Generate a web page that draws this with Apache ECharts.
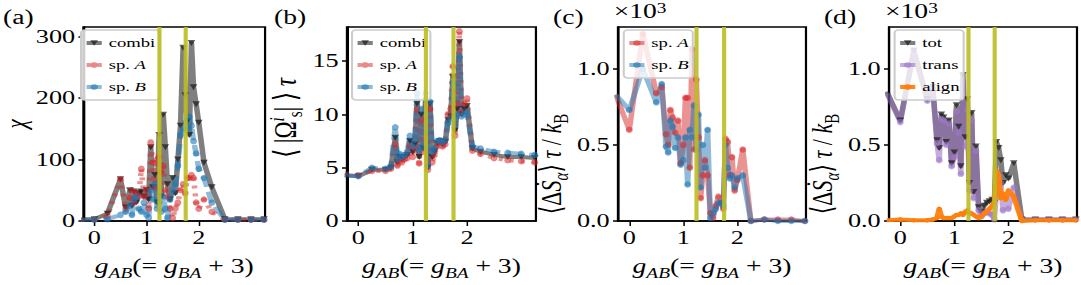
<!DOCTYPE html>
<html><head><meta charset="utf-8">
<script src="https://cdn.jsdelivr.net/npm/echarts@6/dist/echarts.min.js"></script>
<style>
html,body{margin:0;padding:0;overflow:hidden;background:#fff;}
#wrap{width:1081px;height:285px;overflow:hidden;}
#chart{width:783px;height:285px;transform:scaleX(1.38058);transform-origin:0 0;}
</style></head><body><div id="wrap"><div id="chart"></div></div>
<script>
// ---------- data ----------
const gAB = [-0.25,0,0.25,0.5,0.6,0.68,0.72,0.76,0.8,0.85,0.9,0.95,1.0,1.04,1.08,1.12,1.16,1.2,1.24,1.28,1.32,1.36,1.4,1.45,1.5,1.55,1.6,1.65,1.7,1.74,1.78,1.82,1.86,1.9,1.95,2.0,2.1,2.25,2.5,2.75,3.0,3.25];
// (a) chi
const chiCombi = [3,3,12,68,22,50,25,48,30,45,48,40,50,35,120,55,75,30,140,40,173,120,60,35,70,45,100,155,282,205,163,140,290,218,190,160,95,55,3,3,3,3];
const chiA = [2,2,8,68,20,38,50,30,45,40,85,40,50,20,128,95,55,100,105,80,90,50,40,20,5,20,30,50,60,45,70,70,75,70,30,20,35,15,2,2,2,2];
const chiB = [2,2,3,10,15,25,10,35,40,20,15,30,10,5,50,35,60,20,30,15,40,20,5,35,50,60,90,140,150,160,150,170,155,130,110,85,70,30,2,2,2,2];
// (b) <|Omega|> tau
const omCombi = [4.3,4.2,4.8,4.8,5.0,7.8,5.5,6.0,5.8,6.0,6.2,7.5,6.5,7.2,11.0,6.0,10.0,6.8,11.2,5.0,11.0,6.0,6.5,7.3,7.5,7.2,7.4,9.5,9.8,13.5,8.5,10.5,16.8,10.0,10.5,10.8,6.8,6.5,6.2,6.0,6.0,5.9];
const omA = [4.5,4.3,4.7,4.7,4.9,7.2,5.2,5.6,5.5,5.8,5.9,7.0,6.0,6.8,10.5,5.4,9.5,6.5,10.8,4.8,10.5,5.5,6.2,7.0,7.4,7.0,7.2,10.0,10.5,14.5,8.0,11.0,17.8,10.2,11.0,11.5,6.6,6.3,5.9,5.7,5.6,5.5];
const omB = [4.3,4.2,5.0,4.9,5.1,8.8,5.8,6.3,6.0,6.2,6.5,8.0,7.0,7.6,12.0,6.6,10.5,7.0,12.0,5.2,11.2,6.5,6.8,7.5,7.6,7.4,7.6,9.2,9.6,13.0,9.0,10.0,15.4,9.8,10.0,10.2,7.0,6.8,6.5,6.4,6.3,6.2];
// (c) entropy production per species (x10^3)
const entA = [0.83,0.60,1.23,0.84,0.88,0.57,0.50,0.73,0.68,0.58,0.66,0.38,0.50,0.81,0.81,0.35,1.13,0.47,0.93,0.55,0.15,0.30,0.40,0.30,0.05,0.02,0.10,0.16,0.12,0.08,0.54,0.52,0.30,0.42,0.20,0.27,0.47,0.0,0.01,0.01,0.01,0.0];
const entB = [0.83,0.73,1.00,0.78,0.90,0.49,0.45,0.66,0.62,0.48,0.55,0.37,0.40,0.55,0.24,0.60,0.55,0.76,0.47,0.70,0.22,0.50,0.35,0.60,0.02,0.05,0.08,0.12,0.12,0.10,0.50,0.35,0.28,0.30,0.22,0.28,0.30,0.0,0.01,0.0,0.0,0.0];
// (d) entropy production contributions (x10^3)
const entTot = [0.85,0.66,1.12,0.80,0.88,0.53,0.48,0.70,0.68,0.52,0.66,0.38,0.45,0.76,0.62,0.36,0.96,0.55,0.80,0.25,0.71,0.19,0.49,0.09,0.06,0.10,0.12,0.13,0.14,0.12,0.52,0.48,0.40,0.25,0.30,0.28,0.38,0.01,0.01,0.01,0.01,0.01];
const entTrans = [0.84,0.65,1.11,0.79,0.87,0.51,0.40,0.67,0.66,0.50,0.64,0.36,0.42,0.72,0.58,0.31,0.92,0.49,0.73,0.20,0.66,0.15,0.46,0.07,0.03,0.05,0.06,0.05,0.04,0.01,0.19,0.18,0.25,0.07,0.16,0.08,0.22,0.01,0.01,0.01,0.01,0.01];
const entAlign = [0.005,0.01,0.005,0.005,0.01,0.02,0.08,0.03,0.02,0.02,0.02,0.02,0.03,0.04,0.04,0.05,0.04,0.06,0.07,0.05,0.05,0.04,0.03,0.02,0.03,0.05,0.06,0.08,0.10,0.12,0.33,0.30,0.15,0.18,0.14,0.20,0.16,0.0,0.005,0.005,0.005,0.005];
// reference lines and ticks
const refLines = [1.25, 1.75];
const xTicks = [0, 1, 2];
const yTicksA = [0, 100, 200, 300];
const yTicksB = [0, 5, 10, 15];
const yTicksC = [0, 0.5, 1.0];
const panelLabels = ['(a)', '(b)', '(c)', '(d)'];

// ---------- styling ----------
const F = "'Liberation Serif','DejaVu Serif',serif";
function mkRich(big, small, lh) {
  return {
    n: {fontFamily: F, fontSize: big, color: '#000'},
    i: {fontFamily: F, fontSize: big, color: '#000', fontStyle: 'italic'},
    si: {fontFamily: F, fontSize: small, color: '#000', fontStyle: 'italic', verticalAlign: 'bottom', lineHeight: lh},
    s: {fontFamily: F, fontSize: small, color: '#000', verticalAlign: 'bottom', lineHeight: lh},
    sup: {fontFamily: F, fontSize: small, color: '#000', fontStyle: 'italic', verticalAlign: 'top', lineHeight: lh, padding: [2, 0, 0, 0]}
  };
}
const RICH_X = mkRich(20, 14, 28);
const RICH_Y = [mkRich(21, 14, 28), mkRich(23, 15, 30), mkRich(22, 15, 30), mkRich(22, 15, 30)];
const XNAME = '{i|g}{si|AB}{n|(= }{i|g}{si|BA}{n| + 3)}';
const YNAMES = [
  '{i|χ}',
  '{n|⟨ |Ω}{sup|i}{s|s}{n|| ⟩ }{i|τ}',
  '{n|⟨Δ}{i|Ṡ}{si|α}{n|⟩ }{i|τ}{n| / }{i|k}{s|B}',
  '{n|⟨Δ}{i|Ṡ}{si|α}{n|⟩ }{i|τ}{n| / }{i|k}{s|B}'
];
const yNameGap = [36, 30, 28, 28.5];
const yNamePad = [[0,0,0,0],[0,0,0,12],[0,80,0,0],[0,80,0,0]];

const grids = [
  {left: 55.8, top: 27, width: 136.2, height: 200},
  {left: 251.3, top: 27, width: 136.9, height: 200},
  {left: 447.6, top: 27, width: 136.2, height: 200},
  {left: 643.9, top: 27, width: 136.2, height: 200}
].map(g => Object.assign(g, {show: true, borderColor: '#000', borderWidth: 1.6, backgroundColor: 'transparent'}));

const yCfg = [
  {max: 316, ticks: yTicksA, fmt: v => String(v)},
  {max: 18.2, ticks: yTicksB, fmt: v => String(v)},
  {max: 1.275, ticks: yTicksC, fmt: v => v.toFixed(1)},
  {max: 1.275, ticks: yTicksC, fmt: v => v.toFixed(1)}
];

const xAxes = grids.map((g, i) => ({
  type: 'value', gridIndex: i, min: -0.21, max: 3.27,
  axisLine: {show: true, onZero: false, lineStyle: {color: '#000', width: 1.6}},
  axisTick: {show: true, length: 5, customValues: xTicks, lineStyle: {color: '#000', width: 1.1}},
  axisLabel: {customValues: xTicks, color: '#000', fontFamily: F, fontSize: 19, margin: 7, formatter: v => String(v)},
  splitLine: {show: false},
  name: XNAME, nameLocation: 'middle', nameGap: 31,
  nameTextStyle: {rich: RICH_X}
}));
const yAxes = grids.map((g, i) => ({
  type: 'value', gridIndex: i, min: 0, max: yCfg[i].max,
  axisLine: {show: true, onZero: false, lineStyle: {color: '#000', width: 1.6}},
  axisTick: {show: true, length: 3.6, customValues: yCfg[i].ticks, lineStyle: {color: '#000', width: 1.5}},
  axisLabel: {customValues: yCfg[i].ticks, color: '#000', fontFamily: F, fontSize: 19, margin: 6, formatter: yCfg[i].fmt},
  splitLine: {show: false},
  name: YNAMES[i], nameLocation: 'middle', nameRotate: 90, nameGap: yNameGap[i],
  nameTextStyle: {rich: RICH_Y[i], padding: yNamePad[i]}
}));

const pts = vals => gAB.map((x, k) => [x, vals[k]]);
const GREY = {line: 'rgba(0,0,0,0.5)', mark: 'rgba(25,25,25,0.7)'};
const RED = {line: 'rgba(214,39,40,0.5)', mark: 'rgba(214,39,40,0.55)'};
const BLUE = {line: 'rgba(31,119,180,0.5)', mark: 'rgba(31,119,180,0.6)'};
const PURPLE = {line: 'rgba(148,103,189,0.55)', mark: 'rgba(160,120,205,0.6)'};
const ORANGE = {line: 'rgba(255,127,14,0.95)', mark: 'rgba(255,127,14,0.95)'};

function ser(name, idx, vals, col, opt) {
  opt = opt || {};
  return {
    type: 'line', name: name, xAxisIndex: idx, yAxisIndex: idx, data: pts(vals),
    symbol: opt.tri ? 'triangle' : 'circle', symbolRotate: opt.tri ? 180 : 0,
    symbolSize: opt.tri ? [5.5, 6] : (opt.small ? [3.5, 4.5] : [5, 6.5]),
    showSymbol: true, animation: false, z: opt.z || 3,
    lineStyle: {color: col.line, width: opt.w || 4, type: opt.type || 'solid', join: 'round'},
    itemStyle: {color: col.mark, borderWidth: 0},
    emphasis: {disabled: true}
  };
}
function refSeries(idx) {
  return {
    type: 'line', name: 'ref' + idx, xAxisIndex: idx, yAxisIndex: idx, data: [], z: 1, silent: true,
    markLine: {symbol: 'none', silent: true, animation: false, label: {show: false},
      lineStyle: {color: '#bcbd22', width: 3, type: 'solid', opacity: 0.9},
      data: refLines.map(v => ({xAxis: v}))}
  };
}
const DOT = [3, 5], DASH = [11, 5];
const series = [
  refSeries(0), refSeries(1), refSeries(2), refSeries(3),
  ser('a_combi', 0, chiCombi, GREY, {tri: true}),
  ser('a_A', 0, chiA, RED, {type: DOT}),
  ser('a_B', 0, chiB, BLUE, {type: DASH}),
  ser('b_combi', 1, omCombi, GREY, {tri: true}),
  ser('b_A', 1, omA, RED, {type: DOT}),
  ser('b_B', 1, omB, BLUE, {type: DASH}),
  ser('c_A', 2, entA, RED, {}),
  ser('c_B', 2, entB, BLUE, {}),
  ser('d_tot', 3, entTot, GREY, {tri: true}),
  ser('d_trans', 3, entTrans, PURPLE, {}),
  ser('d_align', 3, entAlign, ORANGE, {small: true, z: 4})
];

const LAB = {
  a_combi: 'combi', b_combi: 'combi', d_tot: 'tot', d_trans: 'trans', d_align: 'align',
  a_A: '{n|sp. }{i|A}', b_A: '{n|sp. }{i|A}', c_A: '{n|sp. }{i|A}',
  a_B: '{n|sp. }{i|B}', b_B: '{n|sp. }{i|B}', c_B: '{n|sp. }{i|B}'
};
const LRICH = {
  n: {fontFamily: F, fontSize: 13.5, color: '#000'},
  i: {fontFamily: F, fontSize: 13.5, color: '#000', fontStyle: 'italic'}
};
function leg(data, left) {
  return {
    data: data, orient: 'vertical', left: left, top: 30, itemWidth: 11, itemHeight: 7, itemGap: 8,
    padding: [6, 3, 6, 2], borderColor: '#cccccc', borderWidth: 1.5, borderRadius: 3,
    backgroundColor: 'rgba(255,255,255,0.8)', selectedMode: false,
    lineStyle: {width: 4},
    textStyle: {fontFamily: F, fontSize: 13.5, color: '#000', rich: LRICH},
    formatter: n => LAB[n]
  };
}
const legends = [
  leg(['a_combi', 'a_A', 'a_B'], 58.7),
  leg(['b_combi', 'b_A', 'b_B'], 255),
  leg(['c_A', 'c_B'], 451.8),
  leg(['d_tot', 'd_trans', 'd_align'], 648)
];

const labelLeft = [2.2, 198.5, 400.6, 596.8];
const graphic = panelLabels.map((t, i) => ({
  type: 'text', left: labelLeft[i], top: 7,
  style: {text: t, fontFamily: F, fontSize: 20, fill: '#000'}
}));
[444.5, 641].forEach(l => graphic.push({
  type: 'text', left: l, top: 1,
  style: {text: '{n|×10}{sup|3}', rich: {
    n: {fontFamily: F, fontSize: 20, color: '#000'},
    sup: {fontFamily: F, fontSize: 14, color: '#000', verticalAlign: 'top', padding: [0, 0, 6, 0]}
  }}
}));

const chart = echarts.init(document.getElementById('chart'), null, {renderer: 'svg'});
chart.setOption({
  animation: false,
  backgroundColor: '#fff',
  grid: grids, xAxis: xAxes, yAxis: yAxes,
  legend: legends, series: series, graphic: graphic
});
</script></body></html>
